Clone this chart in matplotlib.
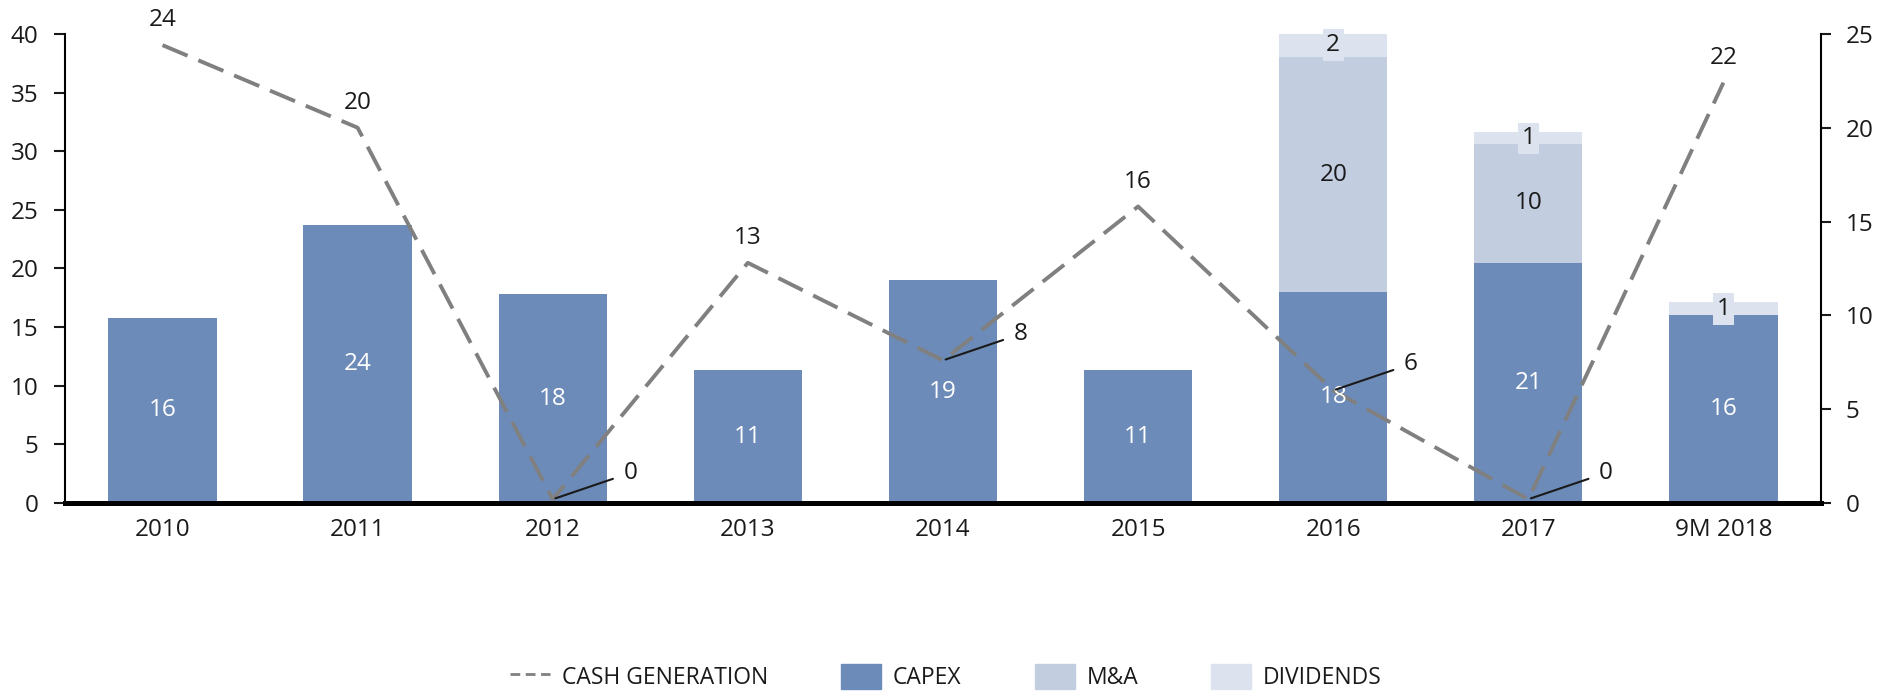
import numpy as np
import matplotlib
matplotlib.use("Agg")
import matplotlib.pyplot as plt
from matplotlib.lines import Line2D
from matplotlib.patches import Patch

plt.rcParams['font.family'] = ['Open Sans', 'DejaVu Sans']

years = ['2010', '2011', '2012', '2013', '2014', '2015', '2016', '2017', '9M 2018']
capex = [15.8, 23.7, 17.8, 11.3, 19.0, 11.3, 18.0, 20.5, 16.0]
capex_lbl = ['16', '24', '18', '11', '19', '11', '18', '21', '16']
ma = [0, 0, 0, 0, 0, 0, 20.0, 10.1, 0]
ma_lbl = ['', '', '', '', '', '', '20', '10', '']
divs = [0, 0, 0, 0, 0, 0, 2.1, 1.0, 1.1]
divs_lbl = ['', '', '', '', '', '', '2', '1', '1']
cash = [24.4, 20.0, 0.2, 12.8, 7.6, 15.8, 6.0, 0.2, 22.4]
cash_lbl = ['24', '20', '0', '13', '8', '16', '6', '0', '22']
# labels pulled aside with a leader line
leader = [False, False, True, False, True, False, True, True, False]

c_capex = '#6d8bb8'
c_ma = '#c2cde0'
c_div = '#dce3ee'
c_line = '#808080'
c_txt = '#1a1a1a'
fs = 17.5

fig = plt.figure(figsize=(18.88, 6.94), dpi=100)
ax = fig.add_axes([0.0344, 0.2752, 0.9301, 0.676])
ax2 = ax.twinx()

x = np.arange(len(years))
w = 0.555
capex = np.array(capex)
ma = np.array(ma)
divs = np.array(divs)

ax.bar(x, capex, w, color=c_capex, zorder=2)
ax.bar(x, ma, w, bottom=capex, color=c_ma, zorder=2)
ax.bar(x, divs, w, bottom=capex + ma, color=c_div, zorder=2)

ax.set_xlim(-0.5, len(years) - 0.5)
ax.set_ylim(0, 40)
ax.set_yticks(np.arange(0, 41, 5))
ax.set_xticks(x)
ax.set_xticklabels(years)

ax2.plot(x, cash, color=c_line, lw=2.8, dashes=(7, 3), zorder=3)
ax2.set_ylim(0, 25)
ax2.set_yticks(np.arange(0, 26, 5))

# bar labels go on ax2 (in ax data coords) so they sit above the line
tr = ax.transData
for i in range(len(years)):
    ax2.text(x[i], capex[i] / 2, capex_lbl[i], ha='center', va='center',
             color='white', fontsize=fs, zorder=5, transform=tr)
    if ma_lbl[i]:
        ax2.text(x[i], capex[i] + ma[i] / 2, ma_lbl[i], ha='center', va='center',
                 color=c_txt, fontsize=fs, zorder=5, transform=tr)
    if divs_lbl[i]:
        ax2.text(x[i], capex[i] + ma[i] + divs[i] / 2, divs_lbl[i], ha='center',
                 va='center', color=c_txt, fontsize=fs, zorder=5, transform=tr,
                 bbox=dict(boxstyle='square,pad=0.15', fc=c_div, ec='none'))

for i in range(len(years)):
    if leader[i]:
        ax2.annotate(cash_lbl[i], xy=(x[i], cash[i]), xytext=(56, 19),
                     textcoords='offset points', ha='center', va='center',
                     fontsize=fs, color=c_txt, zorder=6,
                     arrowprops=dict(arrowstyle='-', color=c_txt, lw=1.5,
                                     shrinkA=6, shrinkB=2))
    else:
        ax2.annotate(cash_lbl[i], xy=(x[i], cash[i]), xytext=(0, 18),
                     textcoords='offset points', ha='center', va='center',
                     fontsize=fs, color=c_txt)

for a in (ax, ax2):
    a.spines['top'].set_visible(False)
    a.spines['bottom'].set_linewidth(3.5)
    a.spines['left'].set_linewidth(1.5)
    a.spines['right'].set_linewidth(1.5)
ax.spines['right'].set_visible(False)
ax2.spines['left'].set_visible(False)

ax.tick_params(axis='y', labelsize=fs, length=8, width=1.5, colors=c_txt, pad=11)
ax.tick_params(axis='x', labelsize=fs, length=0, pad=11, colors=c_txt)
ax2.tick_params(axis='y', labelsize=fs, length=7, width=1.5, colors=c_txt, pad=11)

handles = [
    Line2D([0], [0], color=c_line, lw=2, dashes=(3.5, 2)),
    Patch(color=c_capex),
    Patch(color=c_ma),
    Patch(color=c_div),
]
labels = ['CASH GENERATION', 'CAPEX', 'M&A', 'DIVIDENDS']
leg = fig.legend(handles, labels, loc='center', bbox_to_anchor=(0.501, 0.0245),
                 ncol=4, frameon=False, fontsize=16.5, columnspacing=3.2,
                 handlelength=1.75, handleheight=1.27, handletextpad=0.5)
for t in leg.get_texts():
    t.set_color(c_txt)

fig.savefig('out.png', dpi=100)
